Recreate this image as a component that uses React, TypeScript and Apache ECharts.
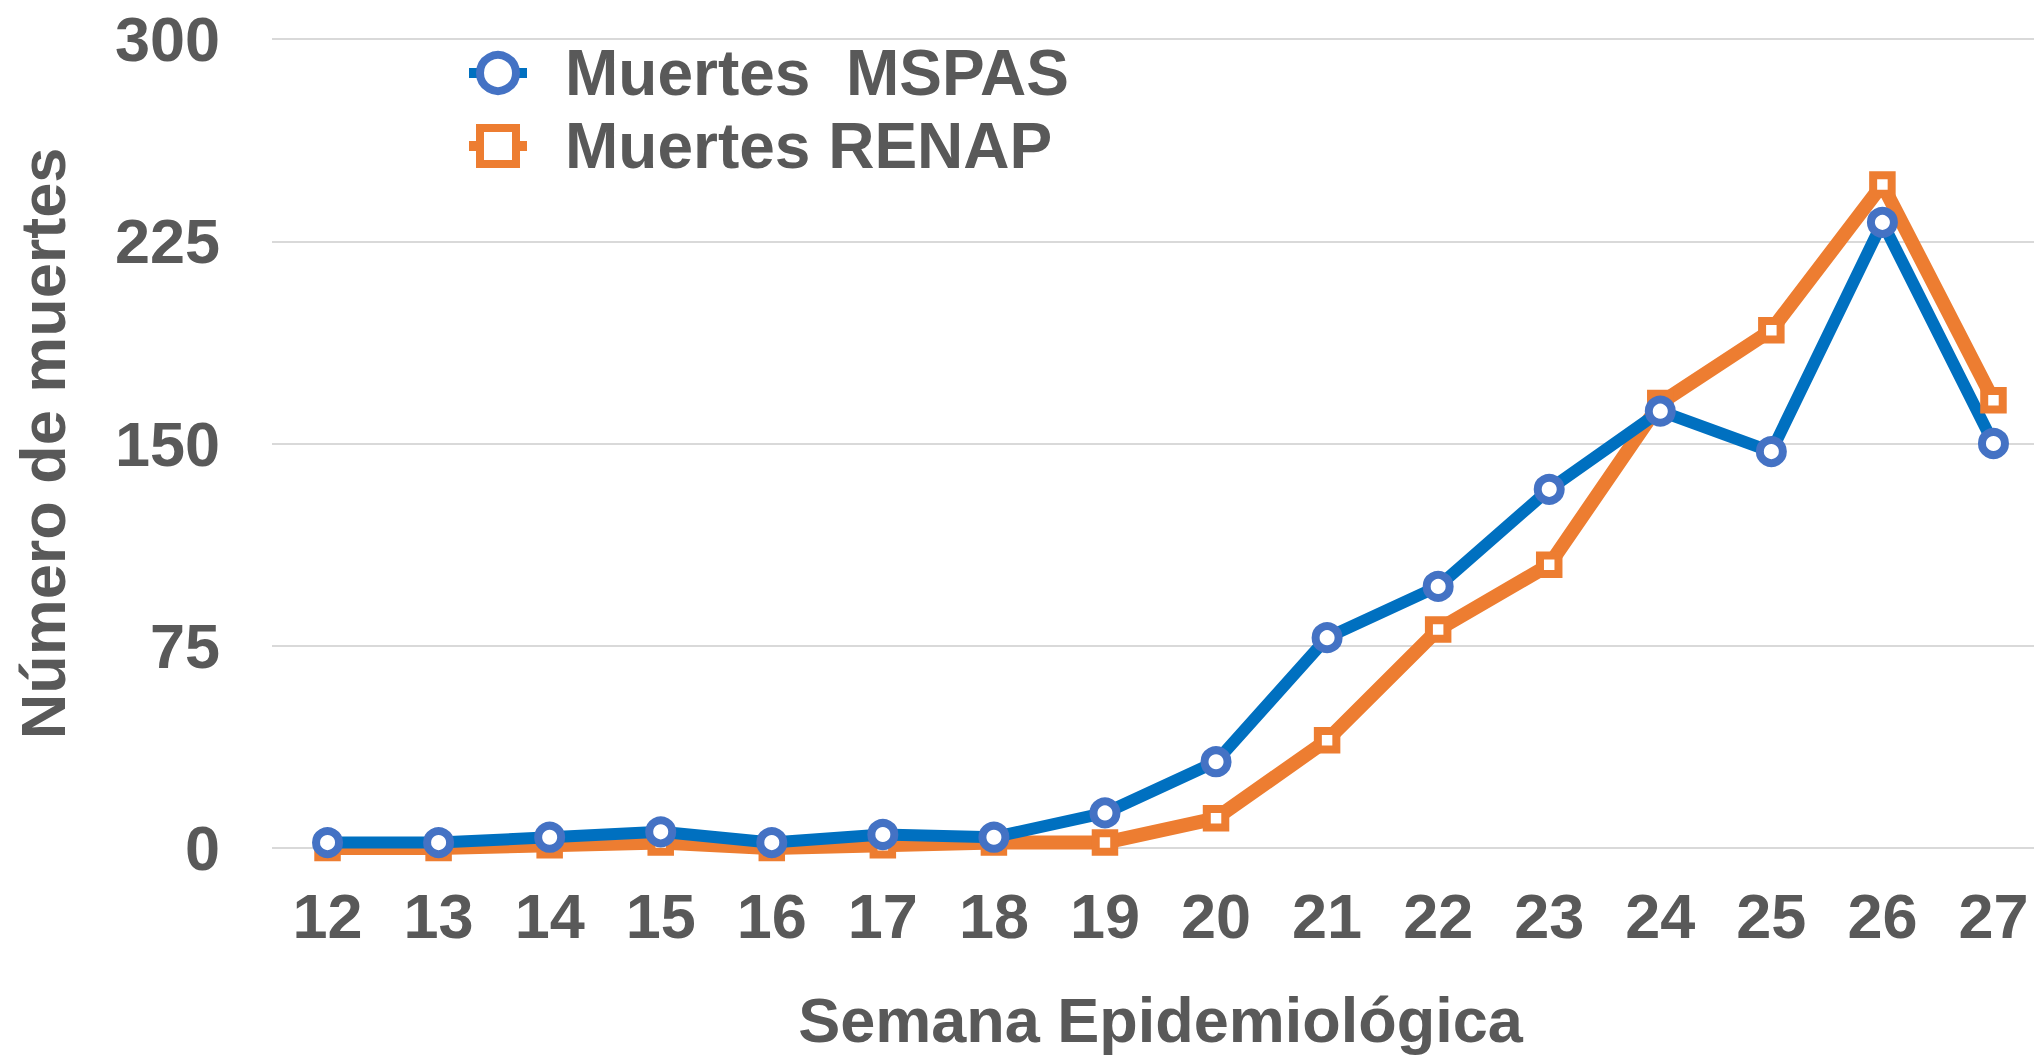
import React, { useEffect, useRef } from "react";
import * as echarts from "echarts";

const weeks = ["12", "13", "14", "15", "16", "17", "18", "19", "20", "21", "22", "23", "24", "25", "26", "27"];
const mspas = [2, 2, 4, 6, 2, 5, 4, 13, 32, 78, 97, 133, 162, 147, 232, 150];
const renap = [0, 0, 1, 2, 0, 1, 2, 2, 11, 40, 81, 105, 165, 192, 246, 166];
const yTicks = { min: 0, max: 300, interval: 75 };
const nameMspas = "Muertes  MSPAS";
const nameRenap = "Muertes RENAP";
const xTitle = "Semana Epidemiológica";
const yTitle = "Número de muertes";

const FONT = "'Liberation Sans', Arial, sans-serif";
const TXT = "#595959";

export default function App() {
  const ref = useRef<HTMLDivElement>(null);
  useEffect(() => {
    document.body.style.margin = "0";
    if (!ref.current) return;
    const chart = echarts.init(ref.current, null, { renderer: "svg" });
    chart.setOption({
      animation: false,
      backgroundColor: "#ffffff",
      textStyle: { fontFamily: FONT },
      grid: {
        left: 272,
        top: 39,
        width: 1777,
        height: 809,
        containLabel: false,
        outerBoundsMode: "none",
      },
      legend: {
        orient: "vertical",
        left: 459,
        top: 36,
        itemWidth: 58,
        itemHeight: 45,
        itemGap: 9,
        data: [nameMspas, nameRenap],
        itemStyle: { borderWidth: 8 },
        lineStyle: { width: 10 },
        textStyle: {
          fontFamily: FONT,
          fontWeight: "bold",
          fontSize: 64,
          color: TXT,
          lineHeight: 63,
          padding: [0, 0, 0, 33],
        },
      },
      xAxis: {
        type: "category",
        data: weeks,
        boundaryGap: true,
        axisLine: { show: false },
        axisTick: { show: false },
        axisLabel: {
          fontFamily: FONT,
          fontWeight: "bold",
          fontSize: 63,
          color: TXT,
          margin: 36,
          interval: 0,
        },
        name: xTitle,
        nameLocation: "middle",
        nameGap: 140,
        nameTextStyle: {
          fontFamily: FONT,
          fontWeight: "bold",
          fontSize: 63,
          lineHeight: 63,
          color: TXT,
        },
      },
      yAxis: {
        type: "value",
        min: yTicks.min,
        max: yTicks.max,
        interval: yTicks.interval,
        axisLine: { show: false },
        axisTick: { show: false },
        splitLine: { lineStyle: { color: "#D9D9D9", width: 2 } },
        axisLabel: {
          fontFamily: FONT,
          fontWeight: "bold",
          fontSize: 63,
          color: TXT,
          margin: 52,
        },
        name: yTitle,
        nameLocation: "middle",
        nameGap: 198,
        nameTextStyle: { fontFamily: FONT, fontWeight: "bold", fontSize: 63, color: TXT },
      },
      series: [
        {
          name: nameRenap,
          type: "line",
          data: renap,
          symbol: "rect",
          symbolSize: 18.5,
          lineStyle: { color: "#ED7D31", width: 14 },
          itemStyle: { color: "#ffffff", borderColor: "#ED7D31", borderWidth: 8 },
        },
        {
          name: nameMspas,
          type: "line",
          data: mspas,
          symbol: "circle",
          symbolSize: 23,
          lineStyle: { color: "#0070C0", width: 12 },
          itemStyle: { color: "#ffffff", borderColor: "#4472C4", borderWidth: 8 },
        },
      ],
    });
    return () => chart.dispose();
  }, []);
  return <div ref={ref} style={{ width: 2034, height: 1058 }} />;
}
